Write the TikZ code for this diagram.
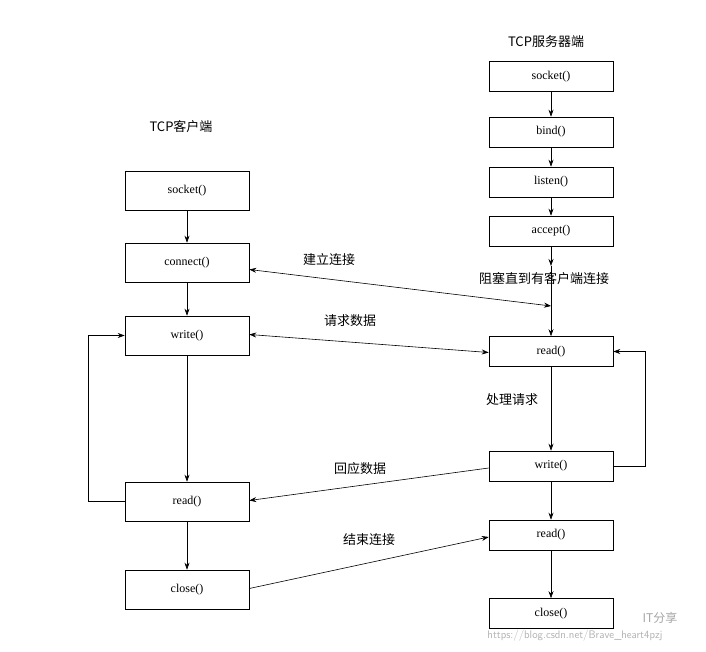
\documentclass[tikz,border=0pt]{standalone}
\usepackage{fontspec}
\setmainfont{Liberation Serif}
\newfontfamily\cjk{Noto Sans CJK SC}
\usetikzlibrary{arrows.meta}
\begin{document}
\begin{tikzpicture}[x=1pt,y=-1pt,
  box/.style={draw,minimum width=124pt,minimum height=#1,inner sep=0pt,font=\fontsize{12}{14}\selectfont},
  box/.default=39pt,
  sbox/.style={box=30pt},
  lab/.style={font=\cjk\fontsize{13}{15}\selectfont},
  >={Stealth[length=7pt,width=5pt]}, line width=0.6pt]
\fill[white] (0,0) rectangle (706,652);
\useasboundingbox (0,0) rectangle (706,652);
% client
\node[lab] (tc) at (181,127) {TCP客户端};
\node[box] (cs) at (187,190.5) {socket()};
\node[box] (cc) at (187,262.5) {connect()};
\node[box] (cw) at (187,335.5) {write()};
\node[box] (cr) at (187,501.5) {read()};
\node[box] (ccl) at (187,589.5) {close()};
% server
\node[lab] (ts) at (546,42) {TCP服务器端};
\node[sbox] (ss) at (551,76.5) {socket()};
\node[sbox] (sb) at (551,132) {bind()};
\node[sbox] (sl) at (551,182) {listen()};
\node[sbox] (sa) at (551,231) {accept()};
\node[sbox] (sr) at (551,351.5) {read()};
\node[sbox] (sw) at (551,466) {write()};
\node[sbox] (sr2) at (551,535) {read()};
\node[sbox] (scl) at (551,613.5) {close()};
% vertical arrows
\draw[->] (cs) -- (cc);
\draw[->] (cc) -- (cw);
\draw[->] (cw) -- (cr);
\draw[->] (cr) -- (ccl);
\draw[->] (ss) -- (sb);
\draw[->] (sb) -- (sl);
\draw[->] (sl) -- (sa);
\coordinate (m1) at (551,266);
\coordinate (m2) at (551,306);
\draw[->] (sa) -- (m1);
\draw[->] (m1) -- (sr);
\draw[->] (sr) -- (sw);
\draw[->] (sw) -- (sr2);
\draw[->] (sr2) -- (scl);
% loops
\coordinate (l1) at (88,501.5);
\coordinate (l2) at (88,335.5);
\draw[->] (cr.west) -- (l1) -- (l2) -- (cw.west);
\coordinate (r1) at (645,466);
\coordinate (r2) at (645,351.5);
\draw[->] (sw.east) -- (r1) -- (r2) -- (sr.east);
% cross arrows
\draw[<->] (cc.east) ++(0,7) coordinate (a1) (a1) -- (m2);
\draw[<->] ([yshift=1pt]cw.east) -- ([yshift=-1pt]sr.west);
\draw[->] ([yshift=-2pt]sw.west) -- ([yshift=1pt]cr.east);
\draw[->] ([yshift=1pt]ccl.east) -- ([yshift=-2pt]sr2.west);
% labels
\node[lab] (t1) at (329,260) {建立连接};
\node[lab] (t2) at (544,279) {阻塞直到有客户端连接};
\node[lab] (t3) at (350,321) {请求数据};
\node[lab] (t4) at (512,400) {处理请求};
\node[lab] (t5) at (360,469) {回应数据};
\node[lab] (t6) at (369,540) {结束连接};
\node[font=\fontsize{11}{13}\selectfont\sffamily,text=gray!60] (wm) at (575,636) {https://blog.csdn.net/Brave\_heart4pzj};
\node[font=\cjk\fontsize{12}{14}\selectfont,text=gray!70] (wm2) at (660,618) {IT分享};
\end{tikzpicture}
\end{document}
